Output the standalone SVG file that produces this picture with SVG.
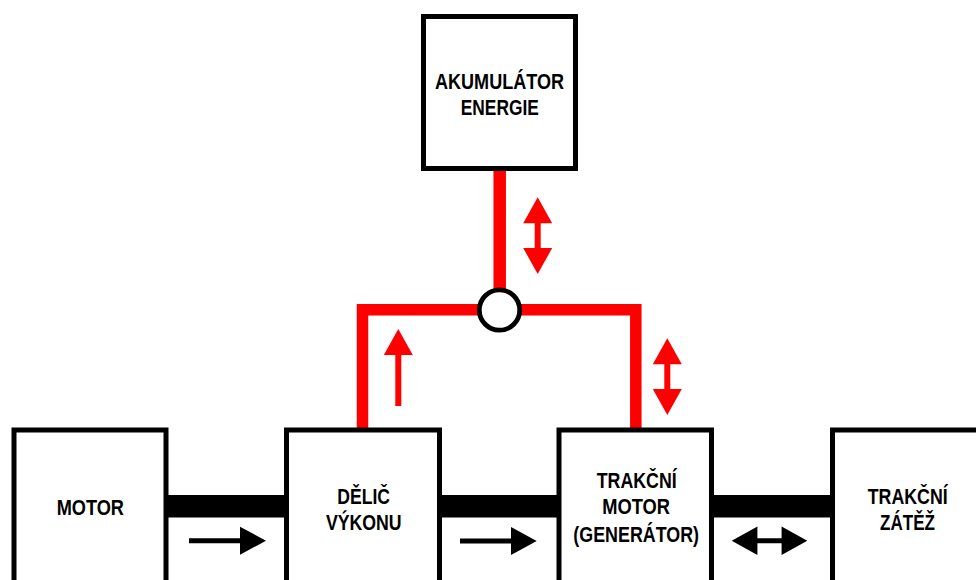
<svg xmlns="http://www.w3.org/2000/svg" width="976" height="580" viewBox="0 0 976 580">
<style>
.box{fill:#fff;stroke:#000;stroke-width:5}
.t{font-family:"Liberation Sans",Arial,sans-serif;font-weight:bold;font-size:22px;text-anchor:middle;fill:#000}
.red{stroke:#ff0000;fill:none;stroke-linejoin:miter}
.shaft{stroke-width:22.5;stroke:#000;fill:none}
.ra{fill:#ff0000}
.ba{fill:#000}
</style>
<rect width="976" height="580" fill="#fff"/>
<g id="connectors">
<line class="shaft" x1="166" y1="506.3" x2="287" y2="506.3"/>
<line class="shaft" x1="440" y1="506.3" x2="560" y2="506.3"/>
<line class="shaft" x1="712" y1="506.3" x2="833" y2="506.3"/>
<line class="red" stroke-width="12.5" x1="499.7" y1="168" x2="499.7" y2="292"/>
<polyline class="red" stroke-width="11.5" points="362.5,430 362.5,309.8 635.8,309.8 635.8,430"/>
<path class="ra" d="M537.7,197.3 L552.2,223.3 L540.7,223.3 L540.7,248 L552.2,248 L537.7,274 L523.2,248 L534.7,248 L534.7,223.3 L523.2,223.3 Z"/>
<path class="ra" d="M667.3,338.3 L681.8,364.3 L670.3,364.3 L670.3,389 L681.8,389 L667.3,415 L652.8,389 L664.3,389 L664.3,364.3 L652.8,364.3 Z"/>
<path class="ra" d="M398.3,329 L412.8,355 L401.3,355 L401.3,406 L395.3,406 L395.3,355 L383.8,355 Z"/>
<path class="ba" d="M189,538.2 L240,538.2 L240,526.7 L266,540.7 L240,554.7 L240,543.2 L189,543.2 Z"/>
<path class="ba" d="M460,538.5 L511,538.5 L511,527 L536.7,541 L511,555 L511,543.5 L460,543.5 Z"/>
<path class="ba" d="M731.7,540.7 L757.4,526.5 L757.4,538.2 L781.6,538.2 L781.6,526.5 L807.3,540.7 L781.6,554.9 L781.6,543.2 L757.4,543.2 L757.4,554.9 Z"/>
</g>
<g id="akumulator">
<rect class="box" x="423.5" y="16.5" width="152" height="152"/>
<text class="t" x="499.5" y="89" textLength="129" lengthAdjust="spacingAndGlyphs">AKUMULÁTOR</text>
<text class="t" x="499.8" y="115" textLength="78" lengthAdjust="spacingAndGlyphs">ENERGIE</text>
</g>
<g id="junction">
<circle cx="499.5" cy="310" r="20.2" fill="#fff" stroke="#000" stroke-width="4.8"/>
</g>
<g id="motor">
<rect class="box" x="14" y="430" width="152" height="190"/>
<text class="t" x="90.3" y="515" textLength="67.3" lengthAdjust="spacingAndGlyphs">MOTOR</text>
</g>
<g id="delic">
<rect class="box" x="286.5" y="430" width="153" height="190"/>
<text class="t" x="363.7" y="504.3" textLength="52.7" lengthAdjust="spacingAndGlyphs">DĚLIČ</text>
<text class="t" x="363.8" y="530" textLength="75.7" lengthAdjust="spacingAndGlyphs">VÝKONU</text>
</g>
<g id="trakcni-motor">
<rect class="box" x="559" y="430" width="152.5" height="190"/>
<text class="t" x="636.7" y="487.7" textLength="80" lengthAdjust="spacingAndGlyphs">TRAKČNÍ</text>
<text class="t" x="636.2" y="514.3" textLength="67.7" lengthAdjust="spacingAndGlyphs">MOTOR</text>
<text class="t" x="636.2" y="541.7" textLength="125.7" lengthAdjust="spacingAndGlyphs">(GENERÁTOR)</text>
</g>
<g id="trakcni-zatez">
<rect class="box" x="832.5" y="430" width="200" height="190"/>
<text class="t" x="907.7" y="504" textLength="80" lengthAdjust="spacingAndGlyphs">TRAKČNÍ</text>
<text class="t" x="907.5" y="530" textLength="55" lengthAdjust="spacingAndGlyphs">ZÁTĚŽ</text>
</g>
</svg>
